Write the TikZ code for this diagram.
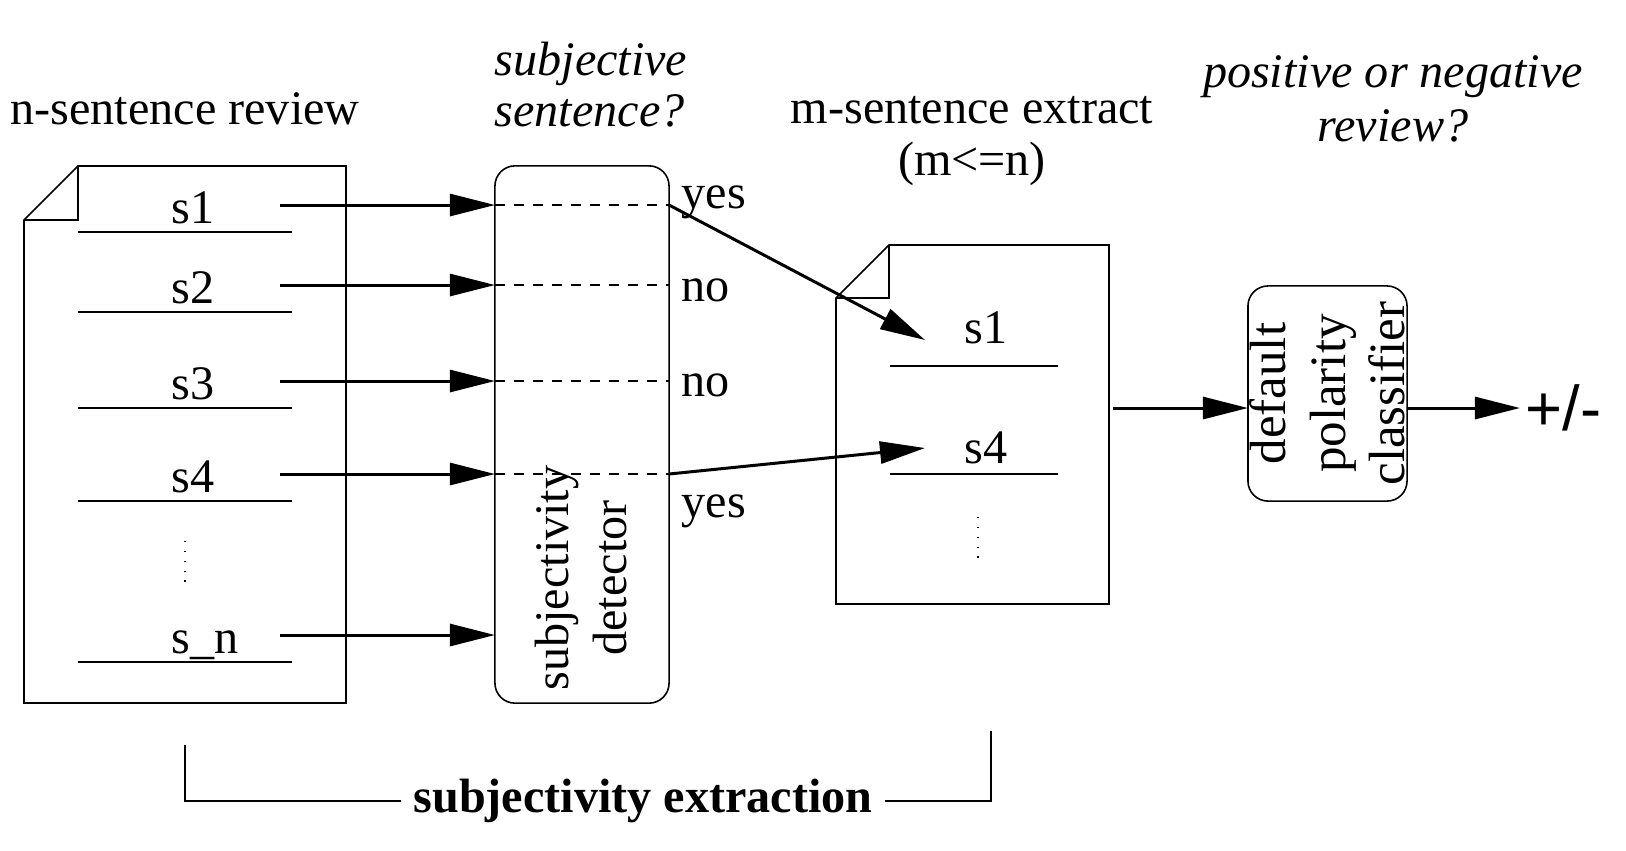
\documentclass[tikz,border=0pt]{standalone}
\usepackage{fontspec}
\setmainfont{Liberation Serif}
\setsansfont{Liberation Sans}
\usetikzlibrary{arrows.meta}
\newcommand\figfont{\fontsize{13.7}{16.5}\selectfont}

\begin{document}
\begin{tikzpicture}[x=0.01cm, y=-0.01cm,
  flow/.style={-{Triangle[length=4.5mm,width=2.2mm]}, line width=0.85pt},
  box/.style={draw, rounded corners=2mm, line width=0.45pt, inner sep=0pt, outer sep=0pt},
  doc/.style={line width=0.45pt},
  sent/.style={anchor=base west, inner sep=0pt},
  gap/.style={dash pattern=on 1mm off 0.9mm, line width=0.4pt},
  dots/.style={dash pattern=on 0.4pt off 2.4pt, line width=0.6pt},
  every node/.style={font=\figfont}]
  \useasboundingbox (0,0) rectangle (1626,850);

  % n-sentence review
  \draw[doc] (24,220) -- (78,166) -- (346,166) -- (346,703) -- (24,703) -- cycle;
  \draw[doc] (78,166) -- (78,220) -- (24,220);
  \node (rev) at (185,109) {n-sentence review};
  \draw[dots] (185,541) -- (185,589);

  % subjectivity detector
  \node[box, minimum width=1.74cm, minimum height=5.37cm] (det) at (582,434.5) {};
  \node[rotate=90, align=center] (dettxt) at (581,578) {subjectivity\\detector};
  \node[font=\figfont\itshape, align=left] (q1) at (591,85) {subjective\\[-2pt]sentence?};

  \foreach \n/\t/\y in {1/s1/232, 2/s2/312, 3/s3/408, 4/s4/501, n/s\_n/662} {
    \node[sent] (in\n) at (171,\y-9) {\t};
    \draw[doc] (78,\y) -- (292,\y);
    \coordinate (a\n) at (280,\y-27);
    \draw[flow] (a\n) -- (a\n -| det.west);
  }
  \foreach \n in {1,2,3,4}
    \draw[gap] (a\n -| det.west) -- (a\n -| det.east);

  \node[sent] (v1) at (681,208) {yes};
  \node[sent] (v2) at (681,301) {no};
  \node[sent] (v3) at (681,396) {no};
  \node[sent] (v4) at (681,517) {yes};

  % m-sentence extract
  \draw[doc] (836,298) -- (889,245) -- (1109,245) -- (1109,604) -- (836,604) -- cycle;
  \draw[doc] (889,245) -- (889,298) -- (836,298);
  \node[align=center] (ext) at (972,141) {m-sentence extract\\[-1.5pt](m<=n)};
  \node[sent] (o1) at (964,343) {s1};
  \draw[doc] (890,366) -- (1058,366);
  \node[sent] (o4) at (964,463) {s4};
  \draw[doc] (890,474) -- (1058,474);
  \draw[dots] (978,517) -- (978,563);
  \coordinate (e1) at (925,340);
  \coordinate (e4) at (925,448);
  \draw[flow] (a1 -| det.east) -- (e1);
  \draw[flow] (a4 -| det.east) -- (e4);

  % polarity classifier
  \node[box, rotate=90, align=center, font=\fontsize{14.5}{17}\selectfont, minimum width=2.15cm, minimum height=1.59cm] (pol) at (1327.5,393.5) {default\\polarity\\classifier};
  \node[font=\figfont\itshape, align=center] (q2) at (1393,99) {positive or negative\\[-1pt]review?};
  \coordinate (m) at (1113,408);
  \draw[flow] (m) -- (m -| pol.north);
  \node[font=\sffamily\fontsize{18}{20}\selectfont, anchor=west, inner sep=1.5pt] (res) at (1520,408) {+/-};
  \draw[flow] (m -| pol.south) -- (res.west);

  % bracket
  \node[font=\figfont\bfseries] (se) at (643,801) {subjectivity extraction};
  \coordinate (bl) at (185,745);
  \coordinate (br) at (991,731);
  \draw[doc] (bl) |- (se.west);
  \draw[doc] (se.east) -| (br);
\end{tikzpicture}
\end{document}
